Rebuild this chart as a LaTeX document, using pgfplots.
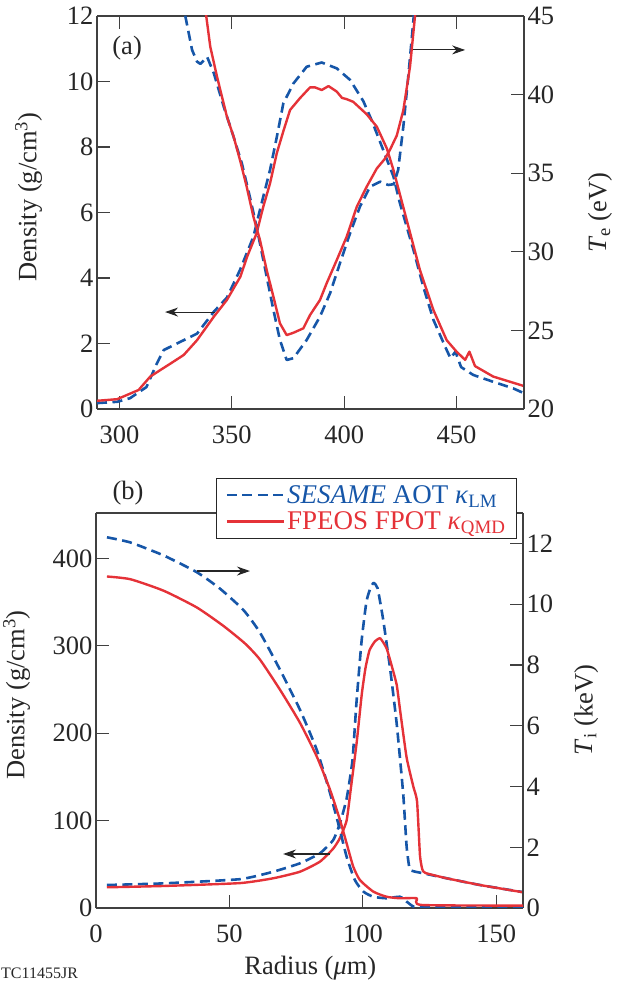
\documentclass[border=0pt]{standalone}
\usepackage{fontspec}
\setmainfont{Liberation Serif}
\usepackage{pgfplots}
\pgfplotsset{compat=1.18}
\usetikzlibrary{arrows.meta}
\definecolor{sblue}{RGB}{22,86,168}
\definecolor{fred}{RGB}{229,50,56}
\definecolor{axgray}{RGB}{64,64,64}

\tikzset{arrowline/.style={-{Stealth[length=13pt,width=9pt]}, line width=1.1pt, black!85}}
\pgfplotsset{
 mystyle/.style={
   scale only axis, width=427pt,
   tick align=inside, major tick length=13pt,
   axis line style={line width=1.2pt, axgray},
   tick style={line width=1.2pt, axgray},
   ticklabel style={font=\fontsize{26.5}{26.5}\selectfont, text=black!85},
   xticklabel style={yshift=-13pt},
   /pgf/number format/assume math mode=true,
   label style={font=\fontsize{26.5}{30}\selectfont, text=black!85},
   clip mode=individual,
 },
 blueline/.style={sblue, line width=2.6pt, dash pattern=on 10pt off 5.5pt, line join=round},
 redline/.style={fred, line width=2.4pt, line join=round},
}

\begin{document}
\begin{tikzpicture}
\useasboundingbox (0pt,0pt) rectangle (624pt,982pt);

% ---------------- panel (a), density ----------------
\begin{axis}[mystyle, at={(97pt,573pt)}, anchor=south west, height=393pt,
  xmin=290, xmax=480, ymin=0, ymax=12,
  xtick={300,350,400,450}, ytick={0,2,...,12},
  axis y line*=left, tick align=inside,
  ylabel={Density (g/cm\textsuperscript{3})},
  ylabel style={at={(axis description cs:-0.160,0.539)}, anchor=center},
]
\addplot[blueline] coordinates {
(290,0.18) (299,0.22) (304.7,0.33) (312,0.67) (316.7,1.4) (319.7,1.8) (325.6,2.0)
(334.5,2.3) (342,2.97) (347.8,3.4) (353.6,4.24) (359.6,5.26) (362.5,6.08) (367,7.3)
(370,8.3) (372.9,9.33) (377.4,9.94) (383.3,10.45) (390,10.58) (396.7,10.4) (402.6,10.05)
(408.5,9.4) (412,8.85) (416,8.15) (421.9,7.1) (424.8,6.28) (430.8,4.86) (435.2,3.73)
(439.7,2.72) (445.6,1.80) (447.3,1.55) (449.5,1.75) (452,1.28) (457.4,1.04) (466.3,0.83)
(475.2,0.63) (480,0.48)};
\addplot[redline] coordinates {
(290,0.25) (299,0.3) (308.5,0.58) (313.7,0.99) (318.2,1.19) (323,1.4) (328.6,1.65)
(334.5,2.1) (342,2.82) (347.8,3.33) (353.8,4.04) (356.8,4.65) (361,5.36) (364,6.18)
(367,6.89) (370,7.81) (373,8.5) (375.9,9.13) (380.3,9.49) (384.8,9.82) (387,9.82)
(390,9.74) (393,9.86) (396.7,9.69) (399,9.5) (401.1,9.46) (404,9.38) (410,9.0)
(414.5,8.62) (416,8.4) (419,7.95) (421.9,7.3) (427.8,5.77) (433.7,4.24) (439.7,3.02)
(445.6,2.1) (450,1.75) (453.8,1.5) (455.7,1.75) (458.2,1.31) (466.3,0.99) (480,0.70)};
\draw[arrowline] (axis cs:342.5,2.96) -- (axis cs:320.3,2.96);
\node[font=\fontsize{26.5}{30}\selectfont, text=black!85] at (axis cs:303.4,11.02) {(a)};
\end{axis}

% ---------------- panel (a), Te ----------------
\begin{axis}[mystyle, at={(97pt,573pt)}, anchor=south west, height=393pt,
  xmin=290, xmax=480, ymin=20, ymax=45,
  axis x line=none, axis y line*=right, tick align=inside,
  ytick={20,25,...,45},
  ylabel={\textit{T}\textsubscript{e} (eV)},
  ylabel style={at={(axis description cs:1.178,0.499)}, anchor=center},
]
\addplot[blueline] coordinates {
(328.5,46) (329.3,45.0) (332.3,42.84) (334.5,42.1) (336,41.95) (339,42.4) (342,41.35)
(346.4,39.23) (350.8,37.3) (354.5,35.6) (358,33.5) (361,31.6) (365.5,28.42) (368.5,26.3)
(371.4,24.39) (374.4,23.12) (377.4,23.23) (383.3,24.39) (389.2,25.87) (393.7,27.36)
(398.1,29.27) (402.6,31.18) (407,32.87) (411.5,34.14) (416,34.46) (419.6,34.25)
(422,34.3) (424,35.2) (426.3,37.96) (428.5,41.14) (430.8,44.75) (431.5,46)};
\addplot[redline] coordinates {
(338,46) (338.6,45.0) (340.4,43.05) (343.4,41.14) (347.8,38.6) (350.8,37.32) (353.7,35.8)
(356.6,34.14) (359.6,32.23) (362.5,30.75) (365.5,28.84) (368.5,27.14) (371.4,25.45)
(374.4,24.7) (377.4,24.85) (381.8,25.13) (384.8,25.98) (389.2,26.93) (392.2,28.0)
(396.7,29.48) (401.1,30.96) (405.6,32.87) (410,34.14) (414.5,35.3) (418,35.9)
(420.4,36.5) (423.4,37.4) (426.3,39.0) (429.3,41.8) (431.5,45) (432,46)};
\draw[arrowline] (axis cs:430.6,42.84) -- (axis cs:453.8,42.84);
\end{axis}

% ---------------- panel (b), density ----------------
\begin{axis}[mystyle, at={(96pt,74pt)}, anchor=south west, height=395pt,
  xmin=0, xmax=160, ymin=0, ymax=452,
  xtick={0,50,100,150}, ytick={0,100,...,400}, xtick pos=left,
  axis y line*=left, tick align=inside,
  ylabel={Density (g/cm\textsuperscript{3})},
  ylabel style={at={(axis description cs:-0.186,0.539)}, anchor=center},
  xlabel={Radius (\textit{μ}m)},
  xlabel style={at={(axis description cs:0.502,-0.152)}, anchor=center},
]
\addplot[blueline, smooth, tension=0.3] coordinates {
(4.1,26.3) (25.4,28.2) (54,33) (66.4,41.5) (76.4,51.1) (83.9,62.6) (88.9,77.8)
(91.4,96.9) (93.9,125) (96.1,169) (97.6,235) (99.5,305) (101.3,350) (102.7,365)
(104,372) (105.5,366) (107.6,330) (110.2,274) (112.7,210) (115.1,131) (116.4,70)
(117.5,45) (119,42) (122.6,39.7) (131.4,34) (143.9,26.3) (160,18.2)};
\addplot[redline, smooth, tension=0.3] coordinates {
(4.1,23.7) (25.4,25.2) (54,28.5) (66.4,34) (76.4,41.5) (83.9,53) (88.9,68)
(91.4,80) (93.9,100) (95.5,137) (97.7,190) (99.6,245) (101,275) (102.5,295)
(104.5,305) (106.5,308.6) (108.9,297) (111,275) (112.7,255) (114,225) (116.4,172)
(118.9,139) (120.3,122) (121.4,60) (122.3,44) (123.5,40) (131.4,34) (143.9,26.3) (160,18)};
\draw[arrowline] (axis cs:87.7,61.8) -- (axis cs:70.1,61.8);
\node[font=\fontsize{26.5}{30}\selectfont, text=black!85] at (axis description cs:0.075,1.051) {(b)};
\end{axis}

% ---------------- panel (b), Ti ----------------
\begin{axis}[mystyle, at={(96pt,74pt)}, anchor=south west, height=395pt,
  xmin=0, xmax=160, ymin=0, ymax=13,
  axis x line=none, axis y line*=right, tick align=inside,
  ytick={0,2,...,12},
  ylabel={\textit{T}\textsubscript{i} (keV)},
  ylabel style={at={(axis description cs:1.148,0.501)}, anchor=center},
  legend image code/.code={\draw[#1] (0pt,0pt) -- (57pt,0pt);},
  legend style={at={(0.986,1.089)}, anchor=north east, draw=black!85, line width=1pt,
    fill=white, font=\fontsize{27}{29}\selectfont, cells={anchor=west},
    inner xsep=9pt, inner ysep=5pt, row sep=3pt},
]
\addplot[blueline, smooth, tension=0.35] coordinates {
(4.1,12.2) (12.9,12.03) (25.4,11.6) (37.8,11.05) (46.6,10.5) (55.3,9.8) (61.4,9.07)
(68.9,7.85) (76.4,6.53) (82.7,5.21) (87.7,3.78) (91.4,2.57) (93.9,1.69) (97,0.92)
(100.2,0.54) (103.9,0.37) (108.9,0.32) (113.9,0.37) (116.4,0.21) (118.9,0.05)
(122,0.03) (160,0.03)};
\addlegendentry{\textcolor{sblue}{\textit{SESAME} AOT \textit{κ}\textsubscript{LM}}}
\addplot[redline, smooth, tension=0.35] coordinates {
(4.1,10.91) (12.9,10.82) (25.4,10.44) (37.8,9.89) (47.8,9.28) (55.9,8.7) (61.4,8.18)
(68.9,7.19) (76.4,6.1) (82.7,4.99) (87.7,3.89) (91.4,2.9) (93.9,2.13) (96.4,1.36)
(98.9,0.92) (103.9,0.54) (108.9,0.37) (113.9,0.32) (120.2,0.32) (122,0.1) (160,0.08)};
\addlegendentry{\textcolor{fred}{FPEOS FPOT \textit{κ}\textsubscript{QMD}}}
\draw[arrowline] (axis cs:37.8,11.09) -- (axis cs:57.7,11.09);
\end{axis}

\node[anchor=base west, font=\fontsize{16}{16}\selectfont, text=black!85, inner sep=1pt] at (0pt,4pt) {TC11455JR};
\end{tikzpicture}
\end{document}
